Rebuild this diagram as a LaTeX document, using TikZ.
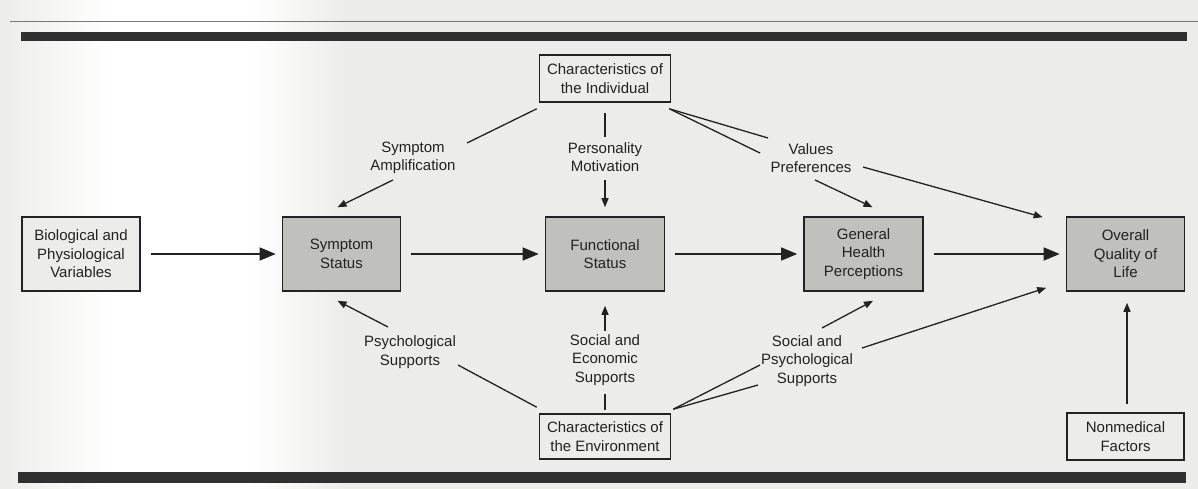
\documentclass[tikz,border=0pt]{standalone}
\usepackage{fontspec}
\setmainfont{Liberation Sans}
\usetikzlibrary{arrows.meta}
\definecolor{paper}{RGB}{236,236,234}
\definecolor{boxgray}{RGB}{192,192,189}
\definecolor{ink}{RGB}{34,34,34}
\definecolor{barcol}{RGB}{48,48,48}
\definecolor{rulecol}{RGB}{120,120,120}

\begin{document}
\begin{tikzpicture}[x=1pt,y=-1pt,
  txt/.style={font=\fontsize{15}{18.5}\selectfont, align=center, text=ink, inner sep=0pt},
  box/.style={txt, draw=ink, line width=1.6pt, minimum width=118pt, minimum height=74pt},
  outcome/.style={box, fill=boxgray},
  source/.style={box, fill=paper},
  lbl/.style={txt},
  link/.style={draw=ink, line width=1.3pt},
  arr/.style={link, -{Triangle[length=9pt,width=7pt]}},
  bigarr/.style={link, -{Triangle[length=16pt,width=13pt]}, shorten <=10pt, shorten >=6pt}
]
% page and scan tone
\useasboundingbox (0,0) rectangle (1198,489);
\fill[paper] (0,0) rectangle (1198,489);
\shade[left color=paper, right color=white] (0,0) rectangle (110,489);
\fill[white] (110,0) rectangle (250,489);
\shade[left color=white, right color=paper] (250,0) rectangle (345,489);

% rules above and below
\draw[rulecol, line width=0.8pt] (10,21) -- (1198,21);
\fill[barcol] (21,32) rectangle (1187,41);
\fill[barcol] (18,472) rectangle (1186,483);

% boxes
\node[source] (bio) at (81,254) {Biological and\\Physiological\\Variables};
\node[outcome] (sym) at (341.5,254) {Symptom\\Status};
\node[outcome, minimum width=119pt] (func) at (605,254) {Functional\\Status};
\node[outcome, minimum width=119pt] (gen) at (863.5,254) {General\\Health\\Perceptions};
\node[outcome] (qol) at (1125.5,254) {Overall\\Quality of\\Life};
\node[source, minimum width=131pt, minimum height=47pt] (indiv) at (605,78.5) {Characteristics of\\the Individual};
\node[source, minimum width=131pt, minimum height=45pt] (env) at (605,436.5) {Characteristics of\\the Environment};
\node[source, minimum width=117pt, minimum height=47pt] (nonmed) at (1125.5,436.5) {Nonmedical\\Factors};

% path labels
\node[lbl] (amp) at (413,158) {Symptom\\Amplification};
\node[lbl] (pers) at (605,157) {Personality\\Motivation};
\node[lbl] (val) at (811,158) {Values\\Preferences};
\node[lbl] (psy) at (410,352) {Psychological\\Supports};
\node[lbl] (soceco) at (605,360) {Social and\\Economic\\Supports};
\node[lbl] (socpsy) at (807,361) {Social and\\Psychological\\Supports};

% main chain
\draw[bigarr] (bio.east) -- (sym.west);
\draw[bigarr] (sym.east) -- (func.west);
\draw[bigarr] (func.east) -- (gen.west);
\draw[bigarr] (gen.east) -- (qol.west);

% characteristics of the individual
\draw[link] ([shift={(-2,6)}]indiv.south west) -- ([shift={(54,-15)}]amp.center);
\draw[arr] ([shift={(-20,22)}]amp.center) -- ([shift={(-4,-9)}]sym.north);
\draw[link] ([shift={(0,10)}]indiv.south) -- ([shift={(0,-20)}]pers.center);
\draw[arr] ([shift={(0,23)}]pers.center) -- ([shift={(0,-9)}]func.north);
\draw[link] ([shift={(-2,6)}]indiv.south east) -- ([shift={(-43,-20)}]val.center);
\draw[link] ([shift={(-2,6)}]indiv.south east) -- ([shift={(-51,-5)}]val.center);
\draw[arr] ([shift={(4,22)}]val.center) -- ([shift={(9,-9)}]gen.north);
\draw[arr] ([shift={(52,9)}]val.center) -- ([shift={(-23,1)}]qol.north west);

% characteristics of the environment
\draw[link] ([shift={(-2,-6)}]env.north west) -- ([shift={(48,13)}]psy.center);
\draw[arr] ([shift={(-22,-25)}]psy.center) -- ([shift={(-4,9)}]sym.south);
\draw[link] ([shift={(0,-3)}]env.north) -- ([shift={(0,34)}]soceco.center);
\draw[arr] ([shift={(0,-29)}]soceco.center) -- ([shift={(0,14)}]func.south);
\draw[link] ([shift={(2,-4)}]env.north east) -- ([shift={(-47,4)}]socpsy.center);
\draw[link] ([shift={(2,-4)}]env.north east) -- ([shift={(-49,24)}]socpsy.center);
\draw[arr] ([shift={(15,-33)}]socpsy.center) -- ([shift={(9.5,9)}]gen.south);
\draw[arr] ([shift={(55,-13)}]socpsy.center) -- ([shift={(-19.5,-4)}]qol.south west);

% nonmedical factors
\draw[arr] ([shift={(1.5,-8)}]nonmed.north) -- ([shift={(1.5,11)}]qol.south);
\end{tikzpicture}
\end{document}
